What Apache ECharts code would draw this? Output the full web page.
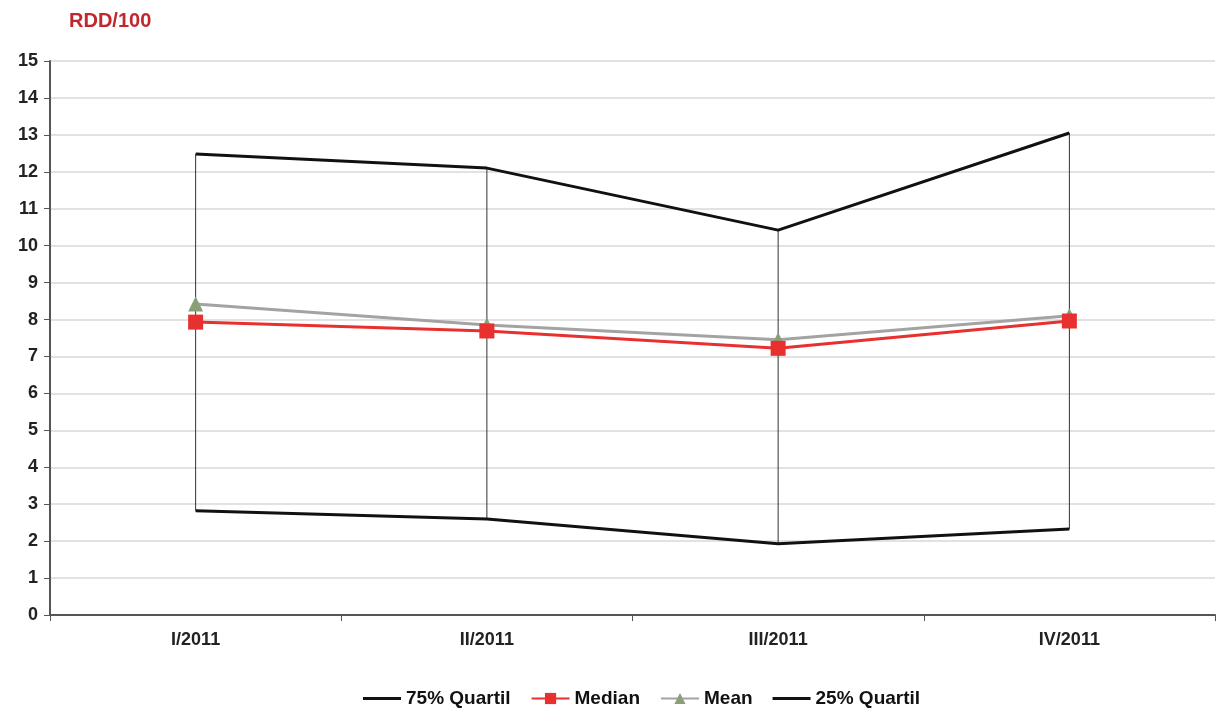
<!DOCTYPE html>
<html>
<head>
<meta charset="utf-8">
<script src="https://cdn.jsdelivr.net/npm/echarts@6/dist/echarts.min.js"></script>
<style>html,body{margin:0;padding:0;background:#fff;}#c{width:1217px;height:715px;}</style>
</head>
<body>
<div id="c"></div>
<script>
var categories = ['I/2011', 'II/2011', 'III/2011', 'IV/2011'];
var q75 = [12.48, 12.10, 10.42, 13.05];
var median = [7.93, 7.69, 7.22, 7.96];
var mean = [8.42, 7.85, 7.45, 8.10];
var q25 = [2.82, 2.60, 1.93, 2.33];
var yTicks = [0, 15, 1];

var chart = echarts.init(document.getElementById('c'));
var font = 'Liberation Sans, Arial, sans-serif';
var rangeData = categories.map(function (c, i) { return [i, q25[i], q75[i]]; });
var lineIcon = 'path://M0,0 L40,0 L40,3 L0,3 Z';

chart.setOption({
  animation: false,
  title: {
    text: 'RDD/100', left: 64, top: 6,
    textStyle: { color: '#c1272d', fontSize: 20, fontWeight: 'bold', fontFamily: font }
  },
  grid: { left: 50, right: 2, top: 61, bottom: 100 },
  legend: {
    bottom: 2, left: 358, itemWidth: 38, itemHeight: 14, itemGap: 20,
    textStyle: { fontSize: 19, fontWeight: 'bold', color: '#111', fontFamily: font },
    data: [
      { name: '75% Quartil', icon: lineIcon },
      'Median', 'Mean',
      { name: '25% Quartil', icon: lineIcon }
    ]
  },
  xAxis: {
    type: 'category', data: categories, boundaryGap: true,
    axisLine: { lineStyle: { color: '#555', width: 2 } },
    axisTick: { show: true, length: 6, lineStyle: { color: '#555' } },
    axisLabel: { fontSize: 18, fontWeight: 'bold', color: '#222', fontFamily: font, margin: 16 }
  },
  yAxis: {
    type: 'value', min: yTicks[0], max: yTicks[1], interval: yTicks[2],
    axisLine: { show: true, lineStyle: { color: '#555', width: 2 } },
    axisTick: { show: true, length: 6, lineStyle: { color: '#555' } },
    axisLabel: { fontSize: 18, fontWeight: 'bold', color: '#222', fontFamily: font, margin: 12 },
    splitLine: { lineStyle: { color: '#d8d8d8', width: 1.5 } }
  },
  series: [
    {
      type: 'custom', name: 'range', silent: true, z: 1,
      data: rangeData,
      renderItem: function (params, api) {
        var lo = api.coord([api.value(0), api.value(1)]);
        var hi = api.coord([api.value(0), api.value(2)]);
        return { type: 'line', shape: { x1: lo[0], y1: lo[1], x2: hi[0], y2: hi[1] },
                 style: { stroke: '#333', lineWidth: 1 } };
      }
    },
    { name: '75% Quartil', type: 'line', data: q75, symbol: 'none', z: 3,
      lineStyle: { color: '#111', width: 3 }, itemStyle: { color: '#111' } },
    { name: 'Mean', type: 'line', data: mean, symbol: 'triangle', symbolSize: 15, z: 4,
      lineStyle: { color: '#a3a3a3', width: 3 }, itemStyle: { color: '#8a9f78' } },
    { name: 'Median', type: 'line', data: median, symbol: 'rect', symbolSize: 15, z: 5,
      lineStyle: { color: '#e8302f', width: 3 }, itemStyle: { color: '#e8302f' } },
    { name: '25% Quartil', type: 'line', data: q25, symbol: 'none', z: 3,
      lineStyle: { color: '#111', width: 3 }, itemStyle: { color: '#111' } }
  ]
});
</script>
</body>
</html>
